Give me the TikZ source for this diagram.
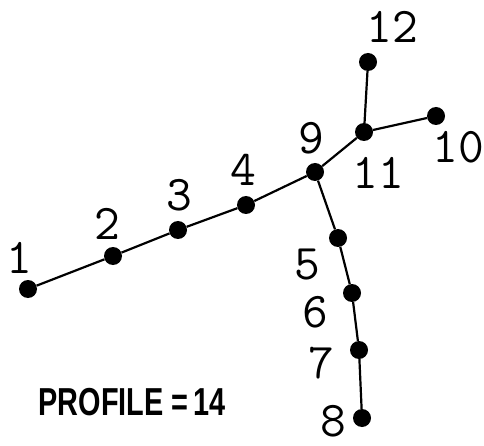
\documentclass[tikz,border=0pt]{standalone}
\usepackage{fontspec}
\setmainfont{Liberation Sans}
\begin{document}
\begin{tikzpicture}[x=1pt,y=-1pt,
  vtx/.style={circle,fill=black,inner sep=0pt,minimum size=18pt},
  edge/.style={line width=2.2pt},
  num/.style={font=\fontsize{50}{50}\selectfont\ttfamily,inner sep=0pt,anchor=center}]
\useasboundingbox (0,0) rectangle (484,446);
% vertices
\node[vtx] (v1)  at (28,289) {};
\node[vtx] (v2)  at (113,256) {};
\node[vtx] (v3)  at (178,230) {};
\node[vtx] (v4)  at (246,205) {};
\node[vtx] (v9)  at (315,172) {};
\node[vtx] (v11) at (364,132) {};
\node[vtx] (v12) at (368,62) {};
\node[vtx] (v10) at (436,116) {};
\node[vtx] (v5)  at (338,238) {};
\node[vtx] (v6)  at (352,293) {};
\node[vtx] (v7)  at (359,350) {};
\node[vtx] (v8)  at (362,418) {};
% edges
\draw[edge] (v1) -- (v2) -- (v3) -- (v4) -- (v9) -- (v11) -- (v12);
\draw[edge] (v11) -- (v10);
\draw[edge] (v9) -- (v5) -- (v6) -- (v7) -- (v8);
% labels
\node[num] (l1)  at (19,258) {1};
\node[num] (l2)  at (107,224) {2};
\node[num] (l3)  at (179,195) {3};
\node[num] (l4)  at (243,170) {4};
\node[num] (l9)  at (311,138) {9};
\node[num] (l12) at (392,27) {12};
\node[num] (l10) at (458,147) {10};
\node[num] (l11) at (378,173) {11};
\node[num] (l5)  at (307,265) {5};
\node[num] (l6)  at (315,312) {6};
\node[num] (l7)  at (321,363) {7};
\node[num] (l8)  at (333,421) {8};
\node[inner sep=0pt,font=\fontsize{39}{39}\selectfont\bfseries] (prof) at (132,402)
  {\scalebox{0.74}[1]{PROFILE\ =\,14}};
\end{tikzpicture}
\end{document}
